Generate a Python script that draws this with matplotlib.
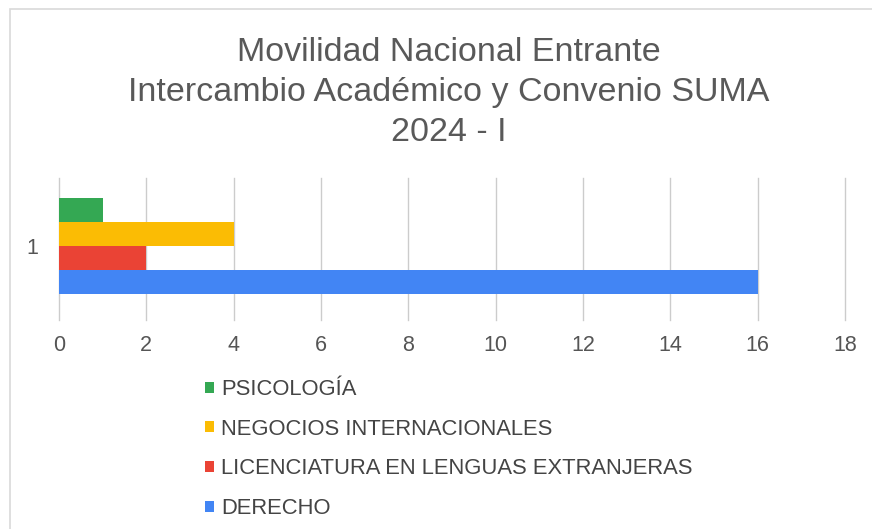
import numpy as np
import matplotlib.pyplot as plt
from matplotlib.patches import Rectangle

plt.rcParams['font.family'] = ['Liberation Sans', 'DejaVu Sans']

# datos
carreras = ['PSICOLOGÍA', 'NEGOCIOS INTERNACIONALES',
            'LICENCIATURA EN LENGUAS EXTRANJERAS', 'DERECHO']
valores = [1, 4, 2, 16]
colores = ['#34a853', '#fbbc04', '#ea4335', '#4285f4']
categoria = ['1']
xticks = [0, 2, 4, 6, 8, 10, 12, 14, 16, 18]

fig = plt.figure(figsize=(8.72, 5.29), dpi=100)
ax = fig.add_axes([0.0677, 0.395, 0.9013, 0.2685])

h = 0.17
n = len(valores)
for i, (c, v, col) in enumerate(zip(carreras, valores, colores)):
    off = (n - 1) / 2 * h - i * h
    ax.barh(off, v, height=h, color=col, label=c, zorder=3)

ax.set_xlim(0, 18)
ax.set_ylim(-0.52, 0.48)
ax.set_xticks(xticks)
ax.set_yticks([0])
ax.set_yticklabels(categoria)
ax.grid(axis='x', color='#cccccc', linewidth=1, zorder=0)
for gl in ax.get_xgridlines():
    gl.set_clip_on(False)
for s in ax.spines.values():
    s.set_visible(False)
ax.tick_params(length=0, labelsize=15.5, colors='#555555', pad=11)
ax.tick_params(axis='y', pad=15)

fig.suptitle('Movilidad Nacional Entrante\nIntercambio Académico y Convenio SUMA\n2024 - I',
             x=0.515, y=0.93, fontsize=24.5, color='#595959', linespacing=1.38)

fig.legend(loc='upper left', bbox_to_anchor=(0.213, 0.321), frameon=False,
           fontsize=15.8, handlelength=0.4, handleheight=0.4, handletextpad=0.3,
           labelspacing=0.85, labelcolor='#444444')

fig.patches.append(Rectangle((10 / 872, -0.1), 1.2, 1.1 - 9 / 529,
                             transform=fig.transFigure, fill=False,
                             edgecolor='#d9d9d9', linewidth=1.2))

fig.savefig('out.png', dpi=100)
